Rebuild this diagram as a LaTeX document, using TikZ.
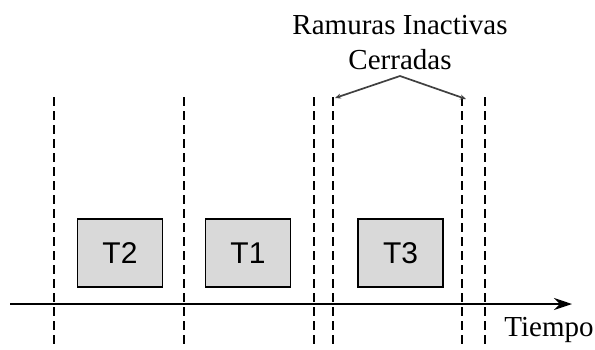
\documentclass[tikz,border=0pt]{standalone}
\usepackage{fontspec}
\setmainfont{Liberation Serif}
\newfontfamily\boxfont{Liberation Sans}
\usetikzlibrary{arrows.meta}
\tikzset{
  slot/.style={draw=black,line width=1.8bp,fill=black!15,minimum width=85bp,minimum height=68bp,inner sep=0pt,font=\boxfont\fontsize{30bp}{34bp}\selectfont},
  lbl/.style={inner sep=0pt,font=\fontsize{29bp}{33bp}\selectfont},
  border/.style={black,line width=1.8bp,dash pattern=on 9bp off 5bp}
}
\begin{document}
\begin{tikzpicture}[x=1bp,y=-1bp]
   \useasboundingbox (0,0) rectangle (595,349);
   % slot boundaries
   \draw[border] (54,97) -- (54,349);
   \draw[border] (184,97) -- (184,349);
   \draw[border] (314,97) -- (314,349);
   \draw[border] (333,97) -- (333,349);
   \draw[border] (462,97) -- (462,349);
   \draw[border] (485,97) -- (485,349);
   % time axis
   \coordinate (t0) at (10,304);
   \coordinate (t1) at (572,304);
   \draw[line width=2bp,-{Stealth[length=18bp,width=12bp]}] (t0) -- (t1);
   \node[lbl] (tiempo) at (549,330) {Tiempo};
   % tasks
   \node[slot] (T2) at (120,253) {T2};
   \node[slot] (T1) at (248,253) {T1};
   \node[slot] (T3) at (400.5,253) {T3};
   % closed idle slots
   \node[lbl] (ramuras) at (400,25) {Ramuras Inactivas};
   \node[lbl] (cerradas) at (400,60) {Cerradas};
   \coordinate (apex) at (400,76);
   \coordinate (left) at (335,98);
   \coordinate (right) at (466,99);
   \draw[black!75,line width=1.7bp,{Stealth[length=6bp,width=5bp]}-{Stealth[length=6bp,width=5bp]}] (left) -- (apex) -- (right);
\end{tikzpicture}
\end{document}
